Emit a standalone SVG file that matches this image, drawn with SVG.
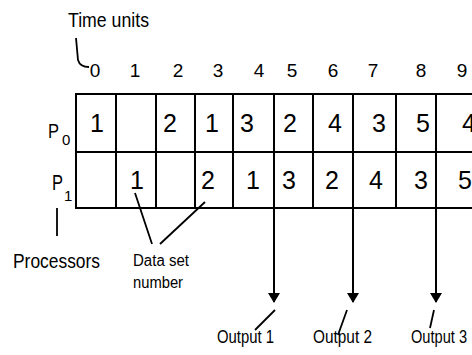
<svg xmlns="http://www.w3.org/2000/svg" width="472" height="355" viewBox="0 0 472 355">
  <style>
    text { font-family: "Liberation Sans", Arial, sans-serif; fill: #000; }
    .hdr { font-size: 19px; text-anchor: middle; }
    .cell { font-size: 25px; text-anchor: middle; }
    .lbl { font-size: 18px; }
    .small { font-size: 16px; }
    .grid line { stroke: #000; stroke-width: 2; }
    .conn line, .conn path { stroke: #000; stroke-width: 1.8; fill: none; }
    .conn line.arrow { stroke-width: 2; }
  </style>
  <defs>
    <marker id="head" viewBox="0 0 10 12" refX="9" refY="6" markerWidth="10" markerHeight="12" markerUnits="userSpaceOnUse" orient="auto">
      <path d="M0,0 L10,6 L0,12 Z" fill="#000"/>
    </marker>
  </defs>
  <rect width="472" height="355" fill="#fff"/>

  <!-- axis caption -->
  <g id="time-units">
    <text x="68" y="27" font-size="21" textLength="81" lengthAdjust="spacingAndGlyphs">Time units</text>
  </g>

  <!-- time unit column numbers -->
  <g id="time-axis">
    <text class="hdr" x="95" y="77">0</text>
    <text class="hdr" x="135" y="77">1</text>
    <text class="hdr" x="178" y="77">2</text>
    <text class="hdr" x="218" y="77">3</text>
    <text class="hdr" x="259" y="77">4</text>
    <text class="hdr" x="292" y="77">5</text>
    <text class="hdr" x="333" y="77">6</text>
    <text class="hdr" x="373" y="77">7</text>
    <text class="hdr" x="421" y="77">8</text>
    <text class="hdr" x="462" y="77">9</text>
  </g>

  <!-- schedule table -->
  <g id="grid" class="grid">
    <line x1="75" y1="94" x2="472" y2="94"/>
    <line x1="75" y1="152" x2="472" y2="152"/>
    <line x1="75" y1="208" x2="472" y2="208"/>
    <line x1="76" y1="94" x2="76" y2="208"/>
    <line x1="116" y1="94" x2="116" y2="208"/>
    <line x1="156" y1="94" x2="156" y2="208"/>
    <line x1="195" y1="94" x2="195" y2="208"/>
    <line x1="233" y1="94" x2="233" y2="208"/>
    <line x1="274" y1="94" x2="274" y2="208"/>
    <line x1="313" y1="94" x2="313" y2="208"/>
    <line x1="353" y1="94" x2="353" y2="208"/>
    <line x1="396" y1="94" x2="396" y2="208"/>
    <line x1="436" y1="94" x2="436" y2="208"/>
  </g>

  <!-- processor P0 row -->
  <g id="row-p0">
    <text x="48" y="138" font-size="21" textLength="11" lengthAdjust="spacingAndGlyphs">P</text>
    <text x="62" y="145" font-size="15">0</text>
    <text class="cell" x="97" y="132">1</text>
    <text class="cell" x="170" y="132">2</text>
    <text class="cell" x="212" y="132">1</text>
    <text class="cell" x="247" y="132">3</text>
    <text class="cell" x="290" y="132">2</text>
    <text class="cell" x="335" y="132">4</text>
    <text class="cell" x="379" y="132">3</text>
    <text class="cell" x="423" y="132">5</text>
    <text class="cell" x="469" y="132">4</text>
  </g>

  <!-- processor P1 row -->
  <g id="row-p1">
    <text x="52" y="190" font-size="22" textLength="11" lengthAdjust="spacingAndGlyphs">P</text>
    <text x="64" y="201" font-size="15">1</text>
    <text class="cell" x="137" y="189">1</text>
    <text class="cell" x="208" y="189">2</text>
    <text class="cell" x="253" y="189">1</text>
    <text class="cell" x="289" y="189">3</text>
    <text class="cell" x="332" y="189">2</text>
    <text class="cell" x="376" y="189">4</text>
    <text class="cell" x="421" y="189">3</text>
    <text class="cell" x="465" y="189">5</text>
  </g>

  <!-- annotations -->
  <g id="processors">
    <text x="13" y="268" font-size="21" textLength="87" lengthAdjust="spacingAndGlyphs">Processors</text>
  </g>
  <g id="data-set-number">
    <text class="small" x="133" y="266" textLength="56" lengthAdjust="spacingAndGlyphs">Data set</text>
    <text class="small" x="133" y="288" textLength="50" lengthAdjust="spacingAndGlyphs">number</text>
  </g>
  <g id="output-1">
    <text class="lbl" x="217" y="343" textLength="57" lengthAdjust="spacingAndGlyphs">Output 1</text>
  </g>
  <g id="output-2">
    <text class="lbl" x="313" y="343" textLength="59" lengthAdjust="spacingAndGlyphs">Output 2</text>
  </g>
  <g id="output-3">
    <text class="lbl" x="411" y="343" textLength="56" lengthAdjust="spacingAndGlyphs">Output 3</text>
  </g>

  <!-- connectors and leader lines -->
  <g id="connectors" class="conn">
    <path d="M76,38 L78,60 Q80,67 89,67"/>
    <line x1="57" y1="208" x2="57" y2="236"/>
    <line x1="135" y1="193" x2="152" y2="244"/>
    <line x1="205" y1="202" x2="160" y2="244"/>
    <line class="arrow" x1="274" y1="208" x2="274" y2="302" marker-end="url(#head)"/>
    <line class="arrow" x1="353" y1="208" x2="353" y2="302" marker-end="url(#head)"/>
    <line class="arrow" x1="436" y1="208" x2="436" y2="302" marker-end="url(#head)"/>
    <line x1="275" y1="310" x2="255" y2="330"/>
    <line x1="347" y1="310" x2="338" y2="335"/>
    <line x1="434" y1="310" x2="430" y2="328"/>
  </g>
</svg>
